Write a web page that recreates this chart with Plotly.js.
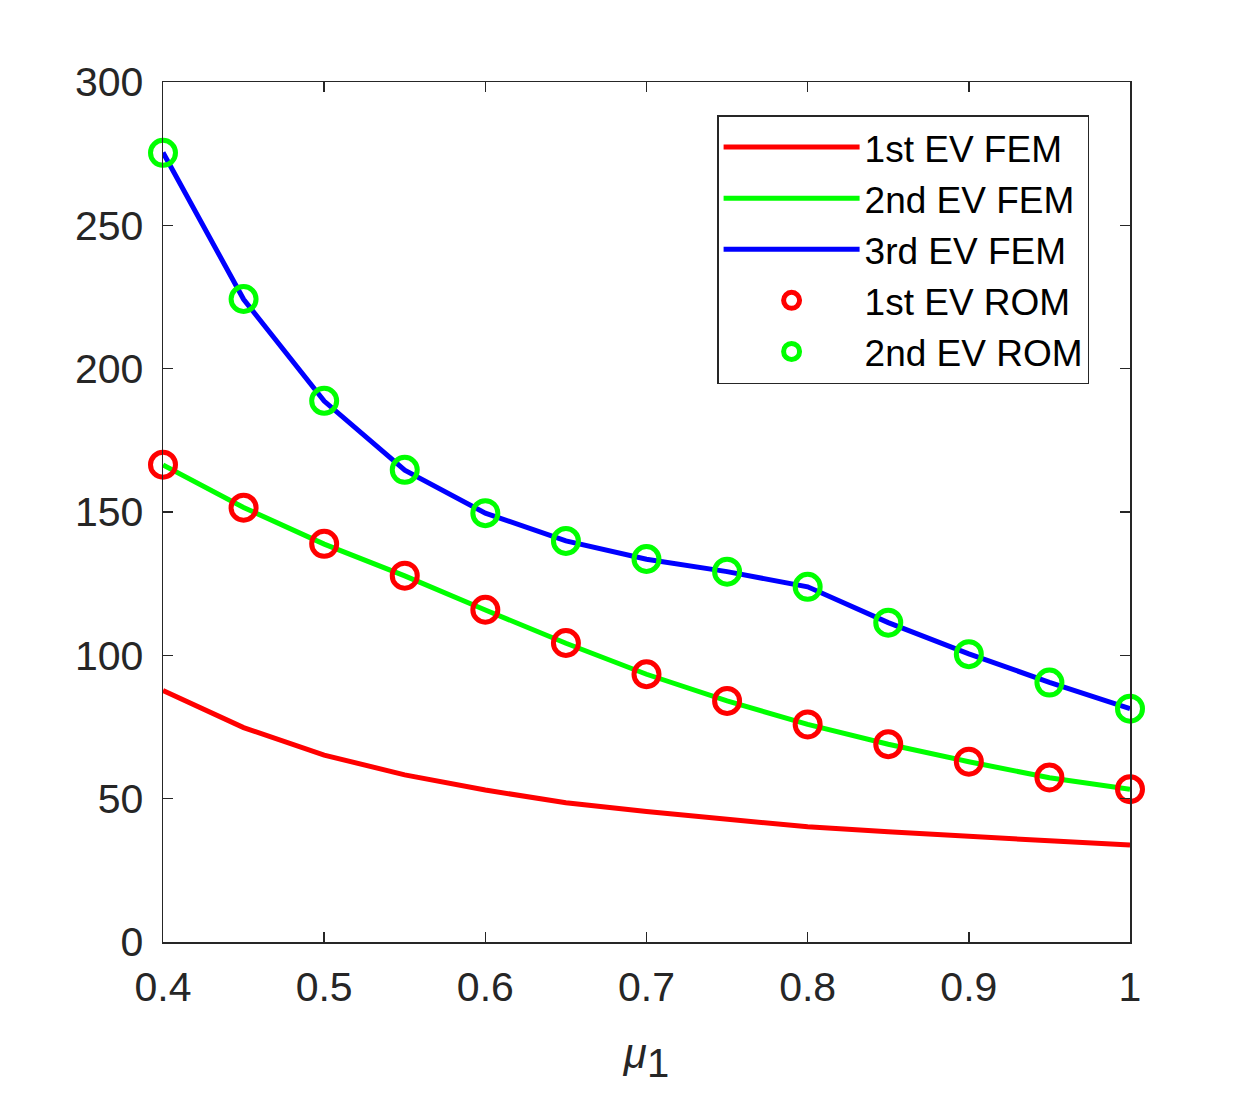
<!DOCTYPE html>
<html>
<head>
<meta charset="utf-8">
<script src="https://cdn.plot.ly/plotly-3.0.1.min.js"></script>
<style>html,body{margin:0;padding:0;background:#fff;}#chart{width:1250px;height:1094px;}</style>
</head>
<body>
<div id="chart"></div>
<script>
var mu = [0.4, 0.45, 0.5, 0.55, 0.6, 0.65, 0.7, 0.75, 0.8, 0.85, 0.9, 0.95, 1.0];
var ev1FEM = [87.7, 74.8, 65.2, 58.3, 53.0, 48.6, 45.5, 42.8, 40.2, 38.5, 36.7, 35.3, 33.8];
var ev2FEM = [166.4, 151.6, 138.8, 127.7, 115.8, 104.2, 93.4, 84.1, 75.9, 69.0, 62.9, 57.3, 53.3];
var ev3FEM = [275.4, 224.2, 188.7, 164.6, 149.6, 139.9, 133.5, 129.2, 123.9, 111.4, 100.5, 90.6, 81.4];
var ev1ROM = [166.5, 151.5, 138.9, 127.8, 115.9, 104.3, 93.4, 84.1, 75.9, 69.0, 62.9, 57.4, 53.3];
var ev2ROM = [275.3, 224.3, 188.8, 164.7, 149.6, 139.9, 133.6, 129.2, 123.9, 111.4, 100.4, 90.5, 81.4];
var xTickVals = [0.4, 0.5, 0.6, 0.7, 0.8, 0.9, 1.0];
var xTickText = ['0.4', '0.5', '0.6', '0.7', '0.8', '0.9', '1'];
var yTickVals = [0, 50, 100, 150, 200, 250, 300];
var names = ['1st EV FEM', '2nd EV FEM', '3rd EV FEM', '1st EV ROM', '2nd EV ROM'];

var RED = '#ff0000', GREEN = '#00ff00', BLUE = '#0000ff';
function lineTrace(y, c, n, g) {
  return {x: mu, y: y, type: 'scatter', mode: 'lines', name: n, legendgroup: g,
          cliponaxis: false, line: {color: c, width: 5}};
}
function markTrace(y, c, n, g) {
  return {x: mu, y: y, type: 'scatter', mode: 'markers', name: n, legendgroup: g,
          cliponaxis: false,
          marker: {symbol: 'circle-open', size: 25, color: c, line: {color: c, width: 5}}};
}
var data = [
  lineTrace(ev1FEM, RED, names[0], 'g1'),
  lineTrace(ev2FEM, GREEN, names[1], 'g2'),
  lineTrace(ev3FEM, BLUE, names[2], 'g3'),
  markTrace(ev1ROM, RED, names[3], 'g4'),
  markTrace(ev2ROM, GREEN, names[4], 'g5')
];
var axisCol = '#262626';
var layout = {
  width: 1250, height: 1094,
  margin: {l: 163, r: 120, t: 82, b: 152, pad: 0},
  paper_bgcolor: '#ffffff', plot_bgcolor: '#ffffff',
  font: {family: 'Liberation Sans, Arial, sans-serif', color: axisCol, size: 41},
  showlegend: true,
  xaxis: {
    range: [0.4, 1.0], tickvals: xTickVals, ticktext: xTickText,
    ticks: 'inside', ticklen: 10, tickwidth: 1.5, tickcolor: axisCol,
    showline: true, linecolor: axisCol, linewidth: 1.5, mirror: 'ticks',
    showgrid: false, zeroline: false, ticklabelstandoff: 8,
    tickfont: {size: 41, color: axisCol},
    title: {text: '<i>μ</i><sub><span style="font-size:40px">1</span></sub>', font: {size: 42, color: axisCol}, standoff: 30}
  },
  yaxis: {
    range: [0, 300], tickvals: yTickVals,
    ticks: 'inside', ticklen: 10, tickwidth: 1.5, tickcolor: axisCol,
    showline: true, linecolor: axisCol, linewidth: 1.5, mirror: 'ticks',
    showgrid: false, zeroline: false, ticklabelstandoff: 10,
    tickfont: {size: 41, color: axisCol}
  },
  legend: {
    x: 0.573, y: 0.9616, xanchor: 'left', yanchor: 'top',
    bgcolor: '#ffffff', bordercolor: axisCol, borderwidth: 1.5,
    font: {size: 37, color: '#000000'},
    itemwidth: 136,
    traceorder: 'grouped', tracegroupgap: 0
  }
};
Plotly.newPlot('chart', data, layout, {displayModeBar: false, staticPlot: true});
</script>
</body>
</html>
